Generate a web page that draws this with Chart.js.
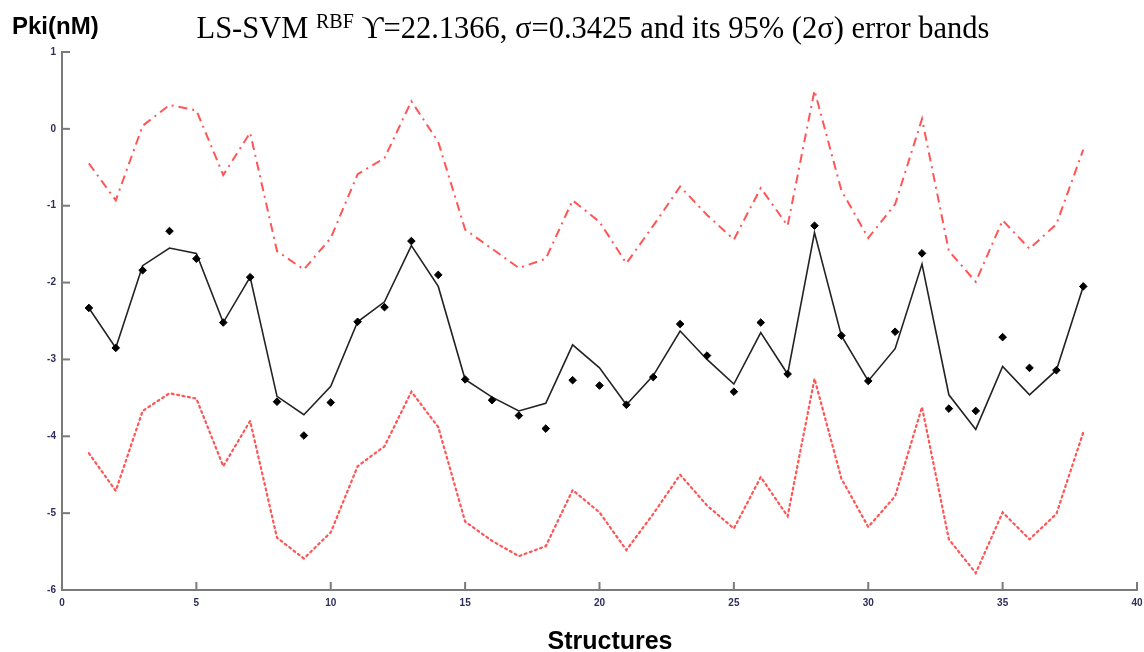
<!DOCTYPE html>
<html>
<head>
<meta charset="utf-8">
<script src="https://cdn.jsdelivr.net/npm/chart.js@4/dist/chart.umd.min.js"></script>
<style>
html,body{margin:0;padding:0;background:#fff;}
#wrap{width:1144px;height:652px;position:relative;}
</style>
</head>
<body>
<div id="wrap"><canvas id="c" width="1144" height="652"></canvas></div>
<script>
const structures = [1,2,3,4,5,6,7,8,9,10,11,12,13,14,15,16,17,18,19,20,21,22,23,24,25,26,27,28,29,30,31,32,33,34,35,36,37,38];
const observed = [-2.33,-2.85,-1.84,-1.33,-1.69,-2.52,-1.93,-3.55,-3.99,-3.56,-2.51,-2.32,-1.46,-1.90,-3.26,-3.53,-3.73,-3.90,-3.27,-3.34,-3.59,-3.23,-2.54,-2.95,-3.42,-2.52,-3.19,-1.26,-2.69,-3.28,-2.64,-1.62,-3.64,-3.67,-2.71,-3.11,-3.14,-2.05];
const predicted = [-2.33,-2.85,-1.78,-1.55,-1.62,-2.52,-1.93,-3.48,-3.72,-3.35,-2.51,-2.25,-1.52,-2.05,-3.26,-3.49,-3.67,-3.57,-2.81,-3.11,-3.59,-3.21,-2.63,-3.00,-3.32,-2.65,-3.19,-1.35,-2.69,-3.28,-2.86,-1.76,-3.46,-3.91,-3.09,-3.46,-3.14,-2.05];
const upperBand = [-0.45,-0.93,0.04,0.31,0.24,-0.60,-0.05,-1.59,-1.83,-1.42,-0.59,-0.38,0.36,-0.17,-1.31,-1.56,-1.81,-1.69,-0.93,-1.21,-1.75,-1.26,-0.75,-1.12,-1.44,-0.77,-1.26,0.50,-0.80,-1.42,-0.98,0.13,-1.59,-1.99,-1.19,-1.56,-1.24,-0.27];
const lowerBand = [-4.22,-4.71,-3.67,-3.44,-3.51,-4.39,-3.80,-5.32,-5.59,-5.25,-4.39,-4.13,-3.42,-3.88,-5.11,-5.36,-5.56,-5.43,-4.70,-4.99,-5.48,-5.01,-4.50,-4.90,-5.20,-4.53,-5.04,-3.25,-4.55,-5.18,-4.78,-3.62,-5.34,-5.78,-4.99,-5.34,-5.01,-3.95];
const xTicks = [0,5,10,15,20,25,30,35,40];
const yTicks = [1,0,-1,-2,-3,-4,-5,-6];

const pts = arr => structures.map((s,i)=>({x:s,y:arr[i]}));
const RED = 'rgba(255,85,85,1)';
const AXIS = '#7a7a7a';
const TICKCOL = '#2e2e5c';

const textPlugin = {
  id:'texts',
  afterDraw(chart){
    const ctx = chart.ctx;
    const xs = chart.scales.x, ys = chart.scales.y;
    ctx.save();
    // inward tick marks
    ctx.strokeStyle = AXIS; ctx.lineWidth = 2;
    const bottom = ys.getPixelForValue(-6), left = xs.getPixelForValue(0);
    xTicks.forEach(v=>{ if(v===0) return; const px = xs.getPixelForValue(v); ctx.beginPath(); ctx.moveTo(px,bottom); ctx.lineTo(px,bottom-8); ctx.stroke(); });
    yTicks.forEach(v=>{ if(v===-6) return; const py = ys.getPixelForValue(v); ctx.beginPath(); ctx.moveTo(left,py); ctx.lineTo(left+8,py); ctx.stroke(); });
    // title
    ctx.fillStyle = '#000';
    ctx.textBaseline = 'alphabetic';
    const big = '30.5px "Liberation Serif"', small = '20px "Liberation Serif"';
    const parts = [['LS-SVM ',big,0],['RBF',small,-10],[' \u03D2=22.1366, \u03C3=0.3425 and its 95% (2\u03C3) error bands',big,0]];
    let total = 0;
    parts.forEach(p=>{ctx.font=p[1]; total += ctx.measureText(p[0]).width;});
    let x = 593 - total/2;
    parts.forEach(p=>{ctx.font=p[1]; ctx.textAlign='left'; ctx.fillText(p[0], x, 38+p[2]); x += ctx.measureText(p[0]).width;});
    // y label
    ctx.font = 'bold 24px "Liberation Sans"';
    ctx.textAlign = 'left';
    ctx.fillText('Pki(nM)', 12, 34);
    // x label
    ctx.font = 'bold 25px "Liberation Sans"';
    ctx.textAlign = 'center';
    ctx.fillText('Structures', 610, 649);
    ctx.restore();
  }
};

new Chart(document.getElementById('c'), {
  type:'line',
  data:{
    datasets:[
      {label:'Upper band', data:pts(upperBand), borderColor:RED, borderWidth:2, borderDash:[9,5,2,5], pointRadius:0, fill:false, tension:0, order:3},
      {label:'Lower band', data:pts(lowerBand), borderColor:RED, borderWidth:2.2, borderDash:[2,3.5], borderCapStyle:'round', pointRadius:0, fill:false, tension:0, order:3},
      {label:'LS-SVM', data:pts(predicted), borderColor:'#222', borderWidth:1.6, pointRadius:0, fill:false, tension:0, order:2},
      {label:'Observed', data:pts(observed), showLine:false, pointStyle:'rectRot', pointRadius:3.8, pointBackgroundColor:'#000', pointBorderColor:'#000', pointBorderWidth:1, order:1}
    ]
  },
  options:{
    responsive:false, animation:false,
    layout:{padding:{top:52,left:0,right:7,bottom:0}},
    plugins:{legend:{display:false}, tooltip:{enabled:false}, title:{display:false}},
    scales:{
      x:{type:'linear', min:0, max:40,
        afterBuildTicks(s){ s.ticks = xTicks.map(v=>({value:v})); },
        afterFit(s){ s.height = 62; s.paddingRight = 0; s.paddingLeft = 0; },
        grid:{display:true, drawOnChartArea:false, drawTicks:false},
        border:{display:true, color:AXIS, width:2},
        ticks:{padding:7, color:TICKCOL, font:{family:'Liberation Sans', size:10, weight:'bold'}, maxRotation:0}
      },
      y:{type:'linear', min:-6, max:1,
        afterBuildTicks(s){ s.ticks = yTicks.slice().reverse().map(v=>({value:v})); },
        afterFit(s){ s.width = 62; },
        grid:{display:true, drawOnChartArea:false, drawTicks:false},
        border:{display:true, color:AXIS, width:2},
        ticks:{padding:6, color:TICKCOL, font:{family:'Liberation Sans', size:10, weight:'bold'}}
      }
    }
  },
  plugins:[textPlugin]
});
</script>
</body>
</html>
